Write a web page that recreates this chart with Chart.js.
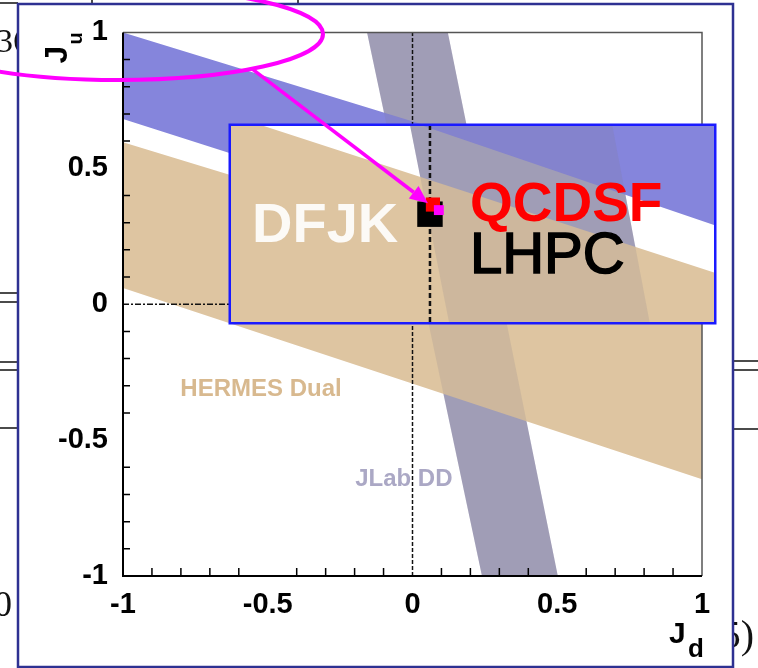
<!DOCTYPE html>
<html>
<head>
<meta charset="utf-8">
<title>J_u versus J_d constraints</title>
<script src="https://cdn.jsdelivr.net/npm/chart.js@4"></script>
<style>
  html, body { margin: 0; padding: 0; background: #fff; }
  #wrap { position: relative; width: 758px; height: 668px; overflow: hidden; }
  #wrap canvas { position: absolute; left: 0; top: 0; }
</style>
</head>
<body>
<div id="wrap">
  <canvas id="main" width="758" height="668"></canvas>
  <canvas id="inset" width="758" height="668"></canvas>
</div>
<script>
// Axis ticks (same on J_d and J_u)
const tickValues = [-1, -0.5, 0, 0.5, 1];
const tickLabels = ['-1', '-0.5', '0', '0.5', '1'];
const minorTicks = [-0.9, -0.8, -0.7, -0.6, -0.4, -0.3, -0.2, -0.1, 0.1, 0.2, 0.3, 0.4, 0.6, 0.7, 0.8, 0.9];

// Allowed bands, polygon corners as (J_d, J_u)
const hermesBand = [{ x: -1, y: 1 }, { x: 1, y: 0.346 }, { x: 1, y: 0.001 }, { x: -1, y: 0.681 }];
const hermesDualBand = [{ x: -1, y: 0.596 }, { x: 1, y: -0.054 }, { x: 1, y: -0.644 }, { x: -1, y: 0.06 }];
const jlabBand = [{ x: -0.157, y: 1 }, { x: 0.122, y: 1 }, { x: 0.502, y: -1 }, { x: 0.240, y: -1 }];

// Zero lines
const zeroVertical = [{ x: 0, y: -1 }, { x: 0, y: 1 }];
const zeroHorizontal = [{ x: -1, y: 0 }, { x: 1, y: 0 }];

// Lattice points shown in the zoomed inset
const lhpcPoint = [{ x: 0.0, y: 0.225 }];
const qcdsfPoint = [{ x: 0.004, y: 0.238 }];
const extraPoint = [{ x: 0.012, y: 0.2305 }];

// Inset window (J_d range, J_u range)
const insetX = [-0.269, 0.384];
const insetY = [0.0795, 0.344];

const SANS = "'Liberation Sans', Arial, sans-serif";
const SERIF = "'Liberation Serif', 'DejaVu Serif', serif";

function bandSets() {
  const base = { type: 'line', fill: 'shape', borderWidth: 0, borderColor: 'transparent', pointRadius: 0 };
  return [
    // translucent copy of the JLab band tints the bands it crosses
    Object.assign({ data: jlabBand, backgroundColor: 'rgba(130,120,140,0.18)', order: 9 }, base),
    Object.assign({ data: hermesDualBand, backgroundColor: '#dec5a1', order: 10 }, base),
    Object.assign({ data: hermesBand, backgroundColor: '#8585dc', order: 11 }, base),
    Object.assign({ data: jlabBand, backgroundColor: '#a8a5c0', order: 12 }, base)
  ];
}

// page behind the figure: frame and bits of the surrounding text
const paper = {
  id: 'paper',
  beforeDraw(chart) {
    const { ctx } = chart;
    ctx.save();
    ctx.fillStyle = '#fff';
    ctx.fillRect(0, 0, chart.width, chart.height);
    ctx.fillStyle = '#111';
    ctx.font = `34px ${SERIF}`;
    ctx.fillText('36', -4, 52);
    ctx.font = `36px ${SERIF}`;
    ctx.fillText('0', -6, 616);
    ctx.font = `40px ${SERIF}`;
    ctx.textAlign = 'right';
    ctx.fillText('5)', 754, 648);
    ctx.strokeStyle = '#111';
    ctx.lineWidth = 1.5;
    ctx.beginPath();
    [293, 302, 362, 370, 428].forEach(y => { ctx.moveTo(0, y); ctx.lineTo(18, y); });
    [361, 370, 429].forEach(y => { ctx.moveTo(734, y); ctx.lineTo(758, y); });
    ctx.moveTo(0, 3); ctx.lineTo(18, 3);
    ctx.moveTo(92, 0); ctx.lineTo(92, 4);
    ctx.moveTo(298, 0); ctx.lineTo(298, 4);
    ctx.stroke();
    ctx.fillStyle = '#fff';
    ctx.fillRect(18, 4, 715, 663);
    ctx.strokeStyle = '#2e3192';
    ctx.lineWidth = 2.5;
    ctx.strokeRect(18, 4, 715, 663);
    ctx.restore();
  }
};

const axes = {
  id: 'axes',
  afterDatasetsDraw(chart) {
    const { ctx, chartArea: a, scales: { x, y } } = chart;
    ctx.save();
    ctx.strokeStyle = '#555';
    ctx.lineWidth = 1.5;
    ctx.beginPath();
    ctx.moveTo(a.left, a.top); ctx.lineTo(a.right, a.top); ctx.lineTo(a.right, a.bottom);
    ctx.stroke();
    ctx.strokeStyle = '#000';
    ctx.lineWidth = 2;
    ctx.beginPath();
    ctx.moveTo(a.left, a.top); ctx.lineTo(a.left, a.bottom); ctx.lineTo(a.right, a.bottom);
    ctx.stroke();
    ctx.lineWidth = 1.5;
    ctx.beginPath();
    minorTicks.forEach(v => {
      const px = x.getPixelForValue(v);
      ctx.moveTo(px, a.bottom); ctx.lineTo(px, a.bottom - 8);
      const py = y.getPixelForValue(v);
      ctx.moveTo(a.left, py); ctx.lineTo(a.left + 7, py);
    });
    ctx.stroke();

    // band names
    ctx.font = `bold 24px ${SANS}`;
    ctx.fillStyle = '#d8b98f';
    ctx.fillText('HERMES Dual', x.getPixelForValue(-0.802), y.getPixelForValue(-0.336));
    ctx.fillStyle = '#aba8c5';
    ctx.fillText('JLab DD', x.getPixelForValue(-0.198), y.getPixelForValue(-0.67));
    ctx.restore();
  },
  afterDraw(chart) {
    const { ctx, chartArea: a } = chart;
    ctx.save();
    ctx.fillStyle = '#000';
    ctx.font = `bold 30px ${SANS}`;
    ctx.fillText('J', a.right - 33, a.bottom + 67);
    ctx.font = `bold 26px ${SANS}`;
    ctx.fillText('d', a.right - 14, a.bottom + 81);
    ctx.translate(a.left - 56, a.top + 31);
    ctx.rotate(-Math.PI / 2);
    ctx.font = `bold 32px ${SANS}`;
    ctx.fillText('J', 0, 0);
    ctx.font = `bold 20px ${SANS}`;
    ctx.fillText('u', 19, 15);
    ctx.restore();
  }
};

const axisFont = { family: SANS, size: 29, weight: 'bold' };
function scaleOpts(padding, fit) {
  return {
    type: 'linear', min: -1, max: 1,
    grid: { display: false, drawTicks: false },
    border: { display: false },
    afterBuildTicks: s => { s.ticks = tickValues.map(v => ({ value: v })); },
    ticks: {
      font: axisFont, color: '#000', padding: padding, maxRotation: 0, autoSkip: false,
      callback: v => tickLabels[tickValues.indexOf(v)]
    },
    afterFit: fit
  };
}

new Chart(document.getElementById('main'), {
  type: 'line',
  data: {
    datasets: [
      ...bandSets(),
      { data: zeroVertical, borderColor: '#111', borderWidth: 1.5, borderDash: [4, 2], pointRadius: 0, fill: false, order: 5 },
      { data: zeroHorizontal, borderColor: '#111', borderWidth: 1.5, borderDash: [6, 2, 2, 2], pointRadius: 0, fill: false, order: 5 }
    ]
  },
  options: {
    responsive: false,
    animation: false,
    events: [],
    layout: { padding: { top: 31, right: 56, left: 0, bottom: 0 } },
    plugins: { legend: { display: false }, tooltip: { enabled: false } },
    scales: {
      x: scaleOpts(12, s => { s.height = 92; }),
      y: scaleOpts(15, s => { s.width = 123; })
    }
  },
  plugins: [paper, axes]
});

// zoomed window with the lattice results, plus the hand-drawn marks
const ring = { cx: 118, cy: 34, rx: 205, ry: 46, t: 0.858 };
const insetDeco = {
  id: 'insetDeco',
  beforeDraw(chart) {
    const { ctx, chartArea: a } = chart;
    ctx.save();
    ctx.fillStyle = '#fff';
    ctx.fillRect(a.left, a.top, a.right - a.left, a.bottom - a.top);
    ctx.restore();
  },
  afterDatasetsDraw(chart) {
    const { ctx, chartArea: a, scales: { x, y } } = chart;
    ctx.save();
    ctx.fillStyle = 'rgba(255,255,255,0.9)';
    ctx.font = `bold 56px ${SANS}`;
    ctx.fillText('DFJK', x.getPixelForValue(-0.2406), y.getPixelForValue(0.1872));
    ctx.fillStyle = '#ff0000';
    ctx.font = `bold 55px ${SANS}`;
    ctx.fillText('QCDSF', x.getPixelForValue(0.054), y.getPixelForValue(0.2156));
    ctx.fillStyle = '#000';
    ctx.strokeStyle = '#000';
    ctx.lineWidth = 1.6;
    ctx.font = `58px ${SANS}`;
    const lx = x.getPixelForValue(0.054), ly = y.getPixelForValue(0.1453);
    ctx.fillText('LHPC', lx, ly);
    ctx.strokeText('LHPC', lx, ly);
    ctx.strokeStyle = '#1a1aff';
    ctx.lineWidth = 2.5;
    ctx.strokeRect(a.left - 1.25, a.top - 1.25, a.right - a.left + 2.5, a.bottom - a.top + 2.5);
    ctx.restore();
  },
  afterDraw(chart) {
    const { ctx, scales: { x, y } } = chart;
    ctx.save();
    ctx.strokeStyle = '#ff00ff';
    ctx.fillStyle = '#ff00ff';
    ctx.lineWidth = 4;
    ctx.beginPath();
    ctx.ellipse(ring.cx, ring.cy, ring.rx, ring.ry, 0, 0, Math.PI * 2);
    ctx.stroke();
    const x0 = ring.cx + ring.rx * Math.cos(ring.t);
    const y0 = ring.cy + ring.ry * Math.sin(ring.t);
    const x1 = x.getPixelForValue(lhpcPoint[0].x) - 2;
    const y1 = y.getPixelForValue(lhpcPoint[0].y) - 11;
    const ang = Math.atan2(y1 - y0, x1 - x0);
    const head = 18, half = 8;
    const bx = x1 - head * Math.cos(ang), by = y1 - head * Math.sin(ang);
    ctx.lineWidth = 3.5;
    ctx.beginPath();
    ctx.moveTo(x0, y0); ctx.lineTo(bx, by);
    ctx.stroke();
    ctx.beginPath();
    ctx.moveTo(x1, y1);
    ctx.lineTo(bx + half * Math.sin(ang), by - half * Math.cos(ang));
    ctx.lineTo(bx - half * Math.sin(ang), by + half * Math.cos(ang));
    ctx.closePath();
    ctx.fill();
    ctx.restore();
  }
};

new Chart(document.getElementById('inset'), {
  type: 'line',
  data: {
    datasets: [
      ...bandSets(),
      { data: zeroVertical, borderColor: '#111', borderWidth: 2.5, borderDash: [5, 3], pointRadius: 0, fill: false, order: 5 },
      { data: lhpcPoint, showLine: false, pointStyle: 'rect', pointRadius: 18, backgroundColor: '#000', borderColor: 'transparent', borderWidth: 0, order: 3 },
      { data: qcdsfPoint, showLine: false, pointStyle: 'rect', pointRadius: 10, backgroundColor: '#ff0000', borderColor: 'transparent', borderWidth: 0, order: 2 },
      { data: extraPoint, showLine: false, pointStyle: 'rect', pointRadius: 7, backgroundColor: '#ff00ff', borderColor: 'transparent', borderWidth: 0, order: 1 }
    ]
  },
  options: {
    responsive: false,
    animation: false,
    events: [],
    layout: { padding: { left: 231, top: 126, right: 44, bottom: 346 } },
    plugins: { legend: { display: false }, tooltip: { enabled: false } },
    scales: {
      x: { type: 'linear', display: false, min: insetX[0], max: insetX[1] },
      y: { type: 'linear', display: false, min: insetY[0], max: insetY[1] }
    }
  },
  plugins: [insetDeco]
});
</script>
</body>
</html>
